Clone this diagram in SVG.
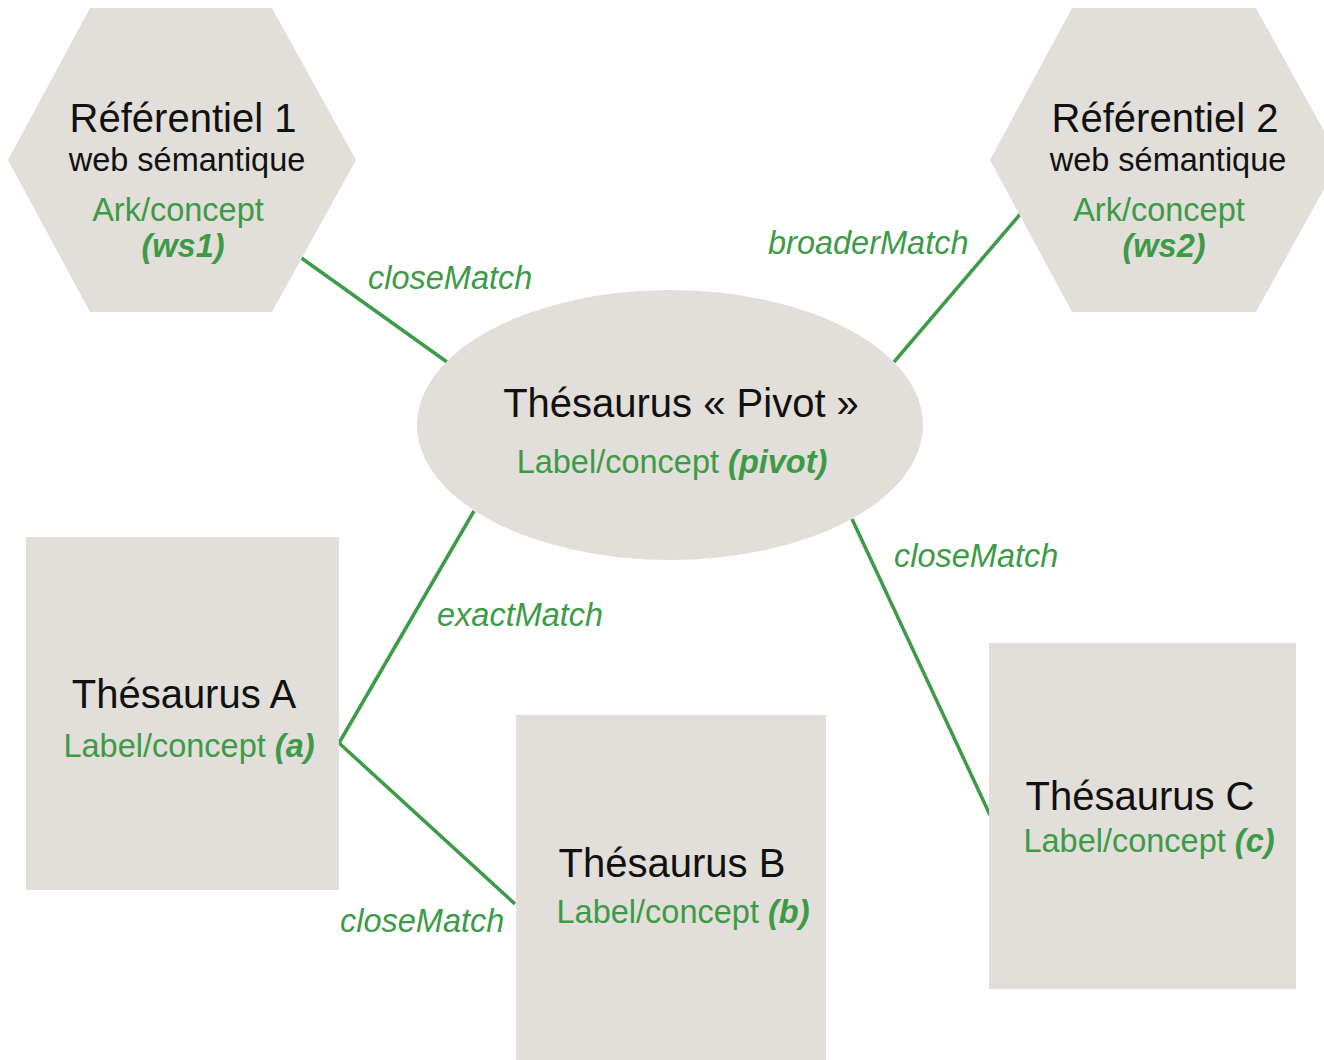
<svg xmlns="http://www.w3.org/2000/svg" width="1324" height="1060" viewBox="0 0 1324 1060">
<style>
.shape{fill:#e2dfda}
.title{font-family:"Liberation Sans",Arial,sans-serif;font-size:40px;fill:#111;text-anchor:middle}
.sub{font-family:"Liberation Sans",Arial,sans-serif;font-size:32.5px;fill:#111;text-anchor:middle}
.green{font-family:"Liberation Sans",Arial,sans-serif;font-size:32.5px;fill:#3d9a47;text-anchor:middle}
.bi{font-weight:bold;font-style:italic}
.edge{stroke:#3d9a47;stroke-width:3.5;fill:none}
.elabel{font-family:"Liberation Sans",Arial,sans-serif;font-size:32.5px;font-style:italic;fill:#3d9a47}
</style>
<rect width="1324" height="1060" fill="#ffffff"/>
<g id="connectors">
<line class="edge" x1="300" y1="257" x2="447" y2="362"/>
<line class="edge" x1="1022" y1="212" x2="894" y2="362"/>
<polyline class="edge" points="474,511 339,743 515,904"/>
<line class="edge" x1="852" y1="519" x2="990" y2="815"/>
<text class="elabel" x="368" y="289">closeMatch</text>
<text class="elabel" x="768" y="254">broaderMatch</text>
<text class="elabel" x="437" y="626">exactMatch</text>
<text class="elabel" x="894" y="567">closeMatch</text>
<text class="elabel" x="340" y="932">closeMatch</text>
</g>
<g id="ref1">
<polygon class="shape" points="90,8 272,8 356,160 272,312 90,312 8,160"/>
<text class="title" x="183" y="132">Référentiel 1</text>
<text class="sub" x="187" y="171">web sémantique</text>
<text class="green" x="178" y="221">Ark/concept</text>
<text class="green bi" x="183" y="257">(ws1)</text>
</g>
<g id="ref2">
<polygon class="shape" points="1072,8 1256,8 1340,160 1256,312 1072,312 990,160"/>
<text class="title" x="1165" y="132">Référentiel 2</text>
<text class="sub" x="1168" y="171">web sémantique</text>
<text class="green" x="1159" y="221">Ark/concept</text>
<text class="green bi" x="1164" y="257">(ws2)</text>
</g>
<g id="pivot">
<ellipse class="shape" cx="670" cy="425" rx="253" ry="135"/>
<text class="title" x="681" y="417">Thésaurus « Pivot »</text>
<text class="green" x="672" y="473">Label/concept <tspan class="bi">(pivot)</tspan></text>
</g>
<g id="thesA">
<rect class="shape" x="26" y="537" width="313" height="353"/>
<text class="title" x="184" y="708">Thésaurus A</text>
<text class="green" x="189" y="757">Label/concept <tspan class="bi">(a)</tspan></text>
</g>
<g id="thesB">
<rect class="shape" x="516" y="715" width="310" height="345"/>
<text class="title" x="672" y="877">Thésaurus B</text>
<text class="green" x="683" y="923">Label/concept <tspan class="bi">(b)</tspan></text>
</g>
<g id="thesC">
<rect class="shape" x="989" y="643" width="307" height="346"/>
<text class="title" x="1140" y="810">Thésaurus C</text>
<text class="green" x="1149" y="852">Label/concept <tspan class="bi">(c)</tspan></text>
</g>
</svg>
